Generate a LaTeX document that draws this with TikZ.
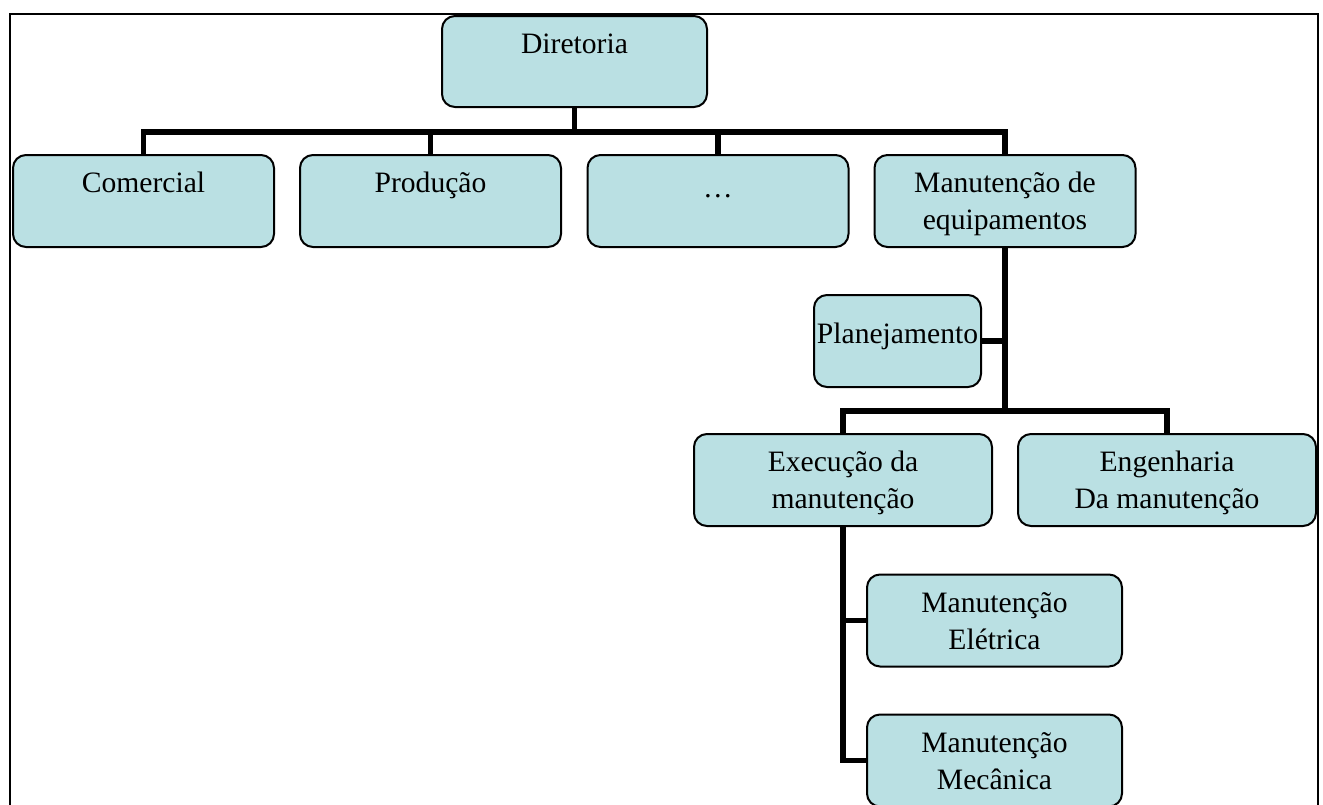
\documentclass[tikz,border=0pt]{standalone}
\usepackage{fontspec}
\setmainfont{Liberation Serif}
\definecolor{orgfill}{RGB}{186,224,227}
\newcommand{\toppad}{\rule{0pt}{16pt}}

\begin{document}
\begin{tikzpicture}[
		x=0.5pt, y=-0.5pt,
		orgbox/.style={draw, line width=1pt, fill=orgfill, rounded corners=6.5pt, align=center, inner xsep=1pt, inner ysep=2pt,
			minimum height=46pt, font=\fontsize{14.8}{18.5}\selectfont},
		link/.style={line width=2.8pt}
		]
		\clip (0,0) rectangle (1323,804);
		% Frame
		\draw[line width=1pt] (10,14) rectangle (1318,840);
		% Top
		\node[orgbox, minimum width=132.5pt, minimum height=45.5pt] (diretoria) at (574.5,61.5) {\toppad Diretoria\\\strut};
		% Departments
		\node[orgbox, minimum width=130.5pt] (comercial) at (143.5,201) {\toppad Comercial\\\strut};
		\node[orgbox, minimum width=130.5pt] (producao) at (430.5,201) {\toppad Produção\\\strut};
		\node[orgbox, minimum width=130.5pt] (outros) at (718,201) {\ldots\rule[-5pt]{0pt}{0pt}};
		\node[orgbox, minimum width=130.5pt] (equip) at (1005,201) {\toppad Manutenção de\\equipamentos\strut};
		% Maintenance
		\node[orgbox, minimum width=83.5pt] (planej) at (897.5,341) {Planejamento\rule[-8pt]{0pt}{0pt}};
		\node[orgbox, minimum width=149pt] (execucao) at (843,480) {\toppad Execução da\\manutenção\strut};
		\node[orgbox, minimum width=149pt] (engenharia) at (1167,480) {\toppad Engenharia\\Da manutenção\strut};
		\node[orgbox, minimum width=127.5pt] (eletrica) at (994.5,620.5) {\toppad Manutenção\\Elétrica\strut};
		\node[orgbox, minimum width=127.5pt] (mecanica) at (994.5,760.5) {\toppad Manutenção\\Mecânica\strut};
		
		% Connectors
		\coordinate (bar1) at (574.5,132);
		\coordinate (bar2) at (1005,411);
		\draw[link] (diretoria) -- (bar1);
		\draw[link] (comercial.north) |- (bar1);
		\draw[link] (producao.north) |- (bar1);
		\draw[link] (outros.north) |- (bar1);
		\draw[link] (equip.north) |- (bar1);
		\draw[link] (equip.south) -- (bar2);
		\draw[link] (planej.east) -- (planej.east -| bar2);
		\draw[link] (execucao.north) |- (bar2);
		\draw[link] (engenharia.north) |- (bar2);
		\draw[link] (execucao.south) |- (eletrica.west);
		\draw[link] (execucao.south) |- (mecanica.west);
	\end{tikzpicture}
\end{document}
